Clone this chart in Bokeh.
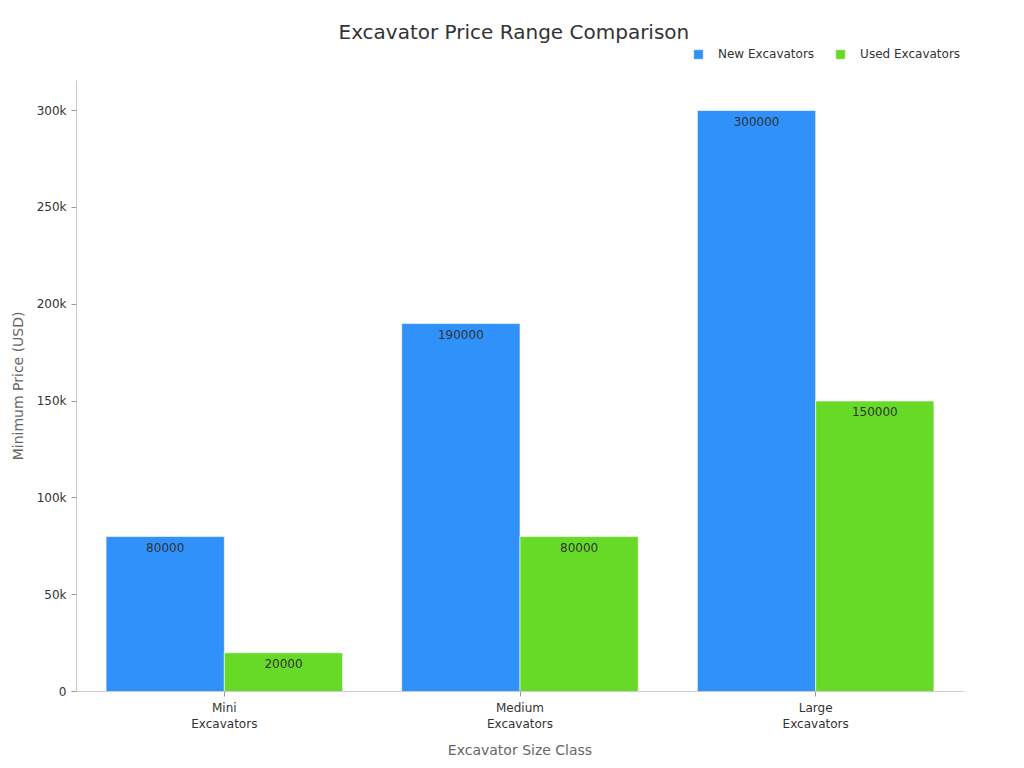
from bokeh.plotting import figure
from bokeh.models import (ColumnDataSource, FactorRange, Range1d, FixedTicker,
                          NumeralTickFormatter, LabelSet, Legend, LegendItem, Title)
from bokeh.core.properties import value
from bokeh.transform import dodge
from bokeh.embed import file_html
from bokeh.resources import INLINE

categories = ["Mini\nExcavators", "Medium\nExcavators", "Large\nExcavators"]
new_prices = [80000, 190000, 300000]
used_prices = [20000, 80000, 150000]
series_names = ["New Excavators", "Used Excavators"]
y_ticks = [0, 50000, 100000, 150000, 200000, 250000, 300000]
y_axis_max = 315500

FONT = "DejaVu Sans"
BLUE = "#2F91F9"
GREEN = "#66DA26"

src = ColumnDataSource(dict(cat=categories, new=new_prices, used=used_prices,
                            new_s=[str(v) for v in new_prices],
                            used_s=[str(v) for v in used_prices]))

# frame spans y=44..691 px; 300k spans 581 px
frame_top_val = 300000 * (691 - 44) / 581.0

p = figure(width=1024, height=768, x_range=FactorRange(factors=categories),
           y_range=Range1d(0, frame_top_val), output_backend="svg", toolbar_location=None,
           min_border_left=75, min_border_right=61, min_border_bottom=77, min_border_top=44)

p.title.text = "Excavator Price Range Comparison"
p.title.text_font = FONT
p.title.text_font_size = "20px"
p.title.text_font_style = "normal"
p.title.text_color = "#333333"
p.title.align = "left"
p.title.offset = 262
p.title.standoff = 2

r1 = p.vbar(x=dodge("cat", -0.2, range=p.x_range), top="new", width=0.4, source=src,
            fill_color=BLUE, line_color="white", line_alpha=0.6, line_width=1)
r2 = p.vbar(x=dodge("cat", 0.2, range=p.x_range), top="used", width=0.4, source=src,
            fill_color=GREEN, line_color="white", line_alpha=0.6, line_width=1)

for col, off in (("new_s", -0.2), ("used_s", 0.2)):
    ycol = "new" if col == "new_s" else "used"
    lab = LabelSet(x=dodge("cat", off, range=p.x_range), y=ycol, text=col, source=src,
                   text_align="center", text_baseline="top", y_offset=-6,
                   text_font=value(FONT), text_font_size="12px", text_color="#333333")
    p.add_layout(lab)

legend = Legend(items=[LegendItem(label=series_names[0], renderers=[r1]),
                       LegendItem(label=series_names[1], renderers=[r2])],
                orientation="horizontal", location=(616, 630),
                border_line_color=None, background_fill_alpha=0,
                label_text_font=FONT, label_text_font_size="12px", label_text_color="#333333",
                glyph_width=12, glyph_height=12, spacing=20, padding=5, margin=0,
                label_standoff=14)
p.add_layout(legend)

p.xgrid.visible = False
p.ygrid.visible = False
p.outline_line_color = None

p.yaxis.ticker = FixedTicker(ticks=y_ticks)
p.yaxis.formatter = NumeralTickFormatter(format="0a")
p.yaxis.bounds = (0, y_axis_max)
p.xaxis.axis_label = "Excavator Size Class"
for ax in (p.xaxis, p.yaxis):
    ax.axis_line_color = "#cccccc"
    ax.major_tick_line_color = "#999999"
    ax.minor_tick_line_color = None
    ax.major_tick_in = 0
    ax.major_tick_out = 5
    ax.major_label_text_font = FONT
    ax.major_label_text_font_size = "12px"
    ax.major_label_text_color = "#333333"
    ax.axis_label_text_font = FONT
    ax.axis_label_text_font_size = "14px"
    ax.axis_label_text_font_style = "normal"
    ax.axis_label_text_color = "#666666"
p.xaxis.major_label_standoff = 4
p.xaxis.axis_label_standoff = 8

ylabel = Title(text="Minimum Price (USD)", align="right", offset=267, standoff=15,
               text_font=FONT, text_font_size="14px", text_font_style="normal",
               text_color="#666666")
p.add_layout(ylabel, "left")

open("out.html", "w").write(file_html(p, INLINE))
